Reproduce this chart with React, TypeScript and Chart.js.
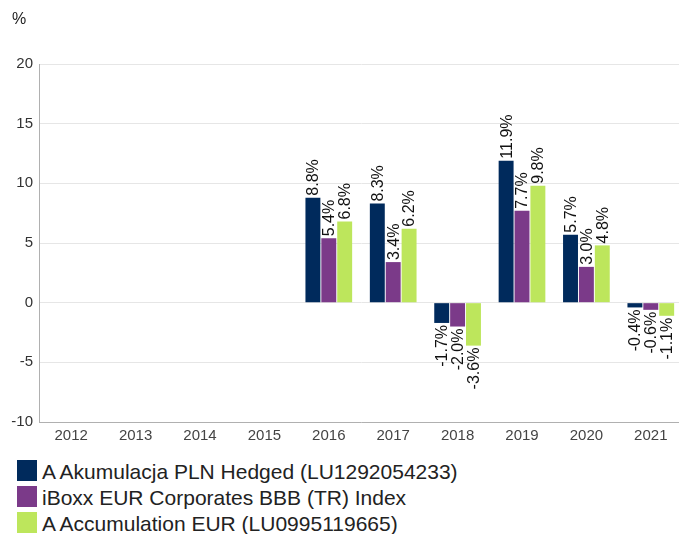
import React, { useEffect, useRef } from "react";
import { Chart, registerables } from "chart.js";

Chart.register(...registerables);

const categories = ["2012", "2013", "2014", "2015", "2016", "2017", "2018", "2019", "2020", "2021"];
const seriesNames = [
  "A Akumulacja PLN Hedged (LU1292054233)",
  "iBoxx EUR Corporates BBB (TR) Index",
  "A Accumulation EUR (LU0995119665)",
];
const fundPLN = [null, null, null, null, 8.8, 8.3, -1.7, 11.9, 5.7, -0.4];
const indexBBB = [null, null, null, null, 5.4, 3.4, -2.0, 7.7, 3.0, -0.6];
const fundEUR = [null, null, null, null, 6.8, 6.2, -3.6, 9.8, 4.8, -1.1];
const seriesColors = ["#002a5c", "#7b3a89", "#bde65c"];
const yTicks = [-10, -5, 0, 5, 10, 15, 20];

const FONT = "Arial, 'Liberation Sans', sans-serif";

const labelPlugin = {
  id: "barLabels",
  afterDatasetsDraw(chart: any) {
    const ctx = chart.ctx;
    ctx.save();
    ctx.font = `16px ${FONT}`;
    ctx.fillStyle = "#111";
    ctx.textBaseline = "middle";
    chart.data.datasets.forEach((ds: any, i: number) => {
      const meta = chart.getDatasetMeta(i);
      meta.data.forEach((bar: any, j: number) => {
        const v = ds.data[j];
        if (v === null || v === undefined) return;
        const txt = v.toFixed(1) + "%";
        ctx.save();
        ctx.translate(bar.x + 1, bar.y);
        ctx.rotate(-Math.PI / 2);
        if (v >= 0) {
          ctx.textAlign = "left";
          ctx.fillText(txt, 2, 0);
        } else {
          ctx.textAlign = "right";
          ctx.fillText(txt, -2, 0);
        }
        ctx.restore();
      });
    });
    ctx.fillStyle = "#222";
    ctx.font = `16px ${FONT}`;
    ctx.textAlign = "left";
    ctx.textBaseline = "middle";
    ctx.fillText("%", 12, 20);
    ctx.restore();
  },
};

export default function App() {
  const ref = useRef<HTMLCanvasElement>(null);
  useEffect(() => {
    if (!ref.current) return;
    const datasets = [fundPLN, indexBBB, fundEUR].map((d, i) => ({
      label: seriesNames[i],
      data: d,
      backgroundColor: seriesColors[i],
      barPercentage: 0.94,
      categoryPercentage: 0.74,
    }));
    const chart = new Chart(ref.current, {
      type: "bar",
      data: { labels: categories, datasets: datasets as any },
      options: {
        animation: false,
        responsive: false,
        devicePixelRatio: 1,
        layout: { padding: { top: 64, left: 0, right: 0, bottom: 0 } },
        plugins: { legend: { display: false }, tooltip: { enabled: false } },
        scales: {
          x: {
            grid: { display: false, drawTicks: false },
            border: { display: true, color: "#b0b0b0", width: 1 },
            ticks: { color: "#444", font: { size: 15, family: FONT }, padding: 5, maxRotation: 0, autoSkip: false },
            afterFit(scale: any) {
              scale.height = 28;
            },
          },
          y: {
            min: -10,
            max: 20,
            afterBuildTicks(scale: any) {
              scale.ticks = yTicks.map((v) => ({ value: v }));
            },
            grid: { color: "#e6e6e6", drawTicks: false, lineWidth: 1 },
            border: { display: true, color: "#b0b0b0", width: 1 },
            ticks: { color: "#333", font: { size: 15, family: FONT }, padding: 6 },
            afterFit(scale: any) {
              scale.width = 39;
            },
          },
        },
      },
      plugins: [labelPlugin],
    });
    return () => chart.destroy();
  }, []);

  return (
    <div style={{ position: "absolute", left: 0, top: 0, width: 679, height: 534, overflow: "hidden", background: "#fff" }}>
      <canvas ref={ref} width={683} height={450} style={{ display: "block", width: 683, height: 450 }} />
      <div style={{ position: "absolute", left: 17, top: 460, fontFamily: FONT, fontSize: 21, color: "#222" }}>
        {seriesNames.map((n, i) => (
          <div key={n} style={{ position: "relative", height: 26 }}>
            <span style={{ position: "absolute", left: 0, top: 0, width: 20, height: 21, background: seriesColors[i] }} />
            <span style={{ position: "absolute", left: 25, top: 1, whiteSpace: "nowrap", lineHeight: "21px" }}>{n}</span>
          </div>
        ))}
      </div>
    </div>
  );
}
